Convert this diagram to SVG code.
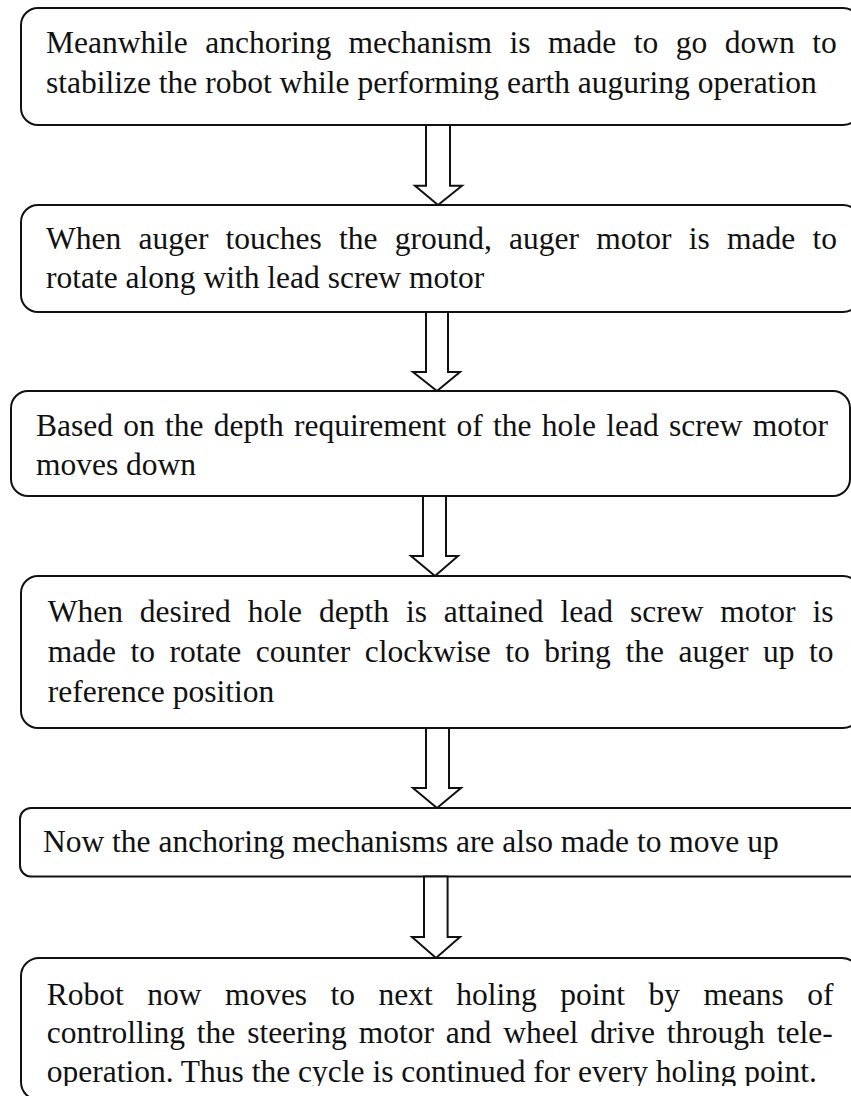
<svg xmlns="http://www.w3.org/2000/svg" width="851" height="1096" viewBox="0 0 851 1096">
<style>
.box{fill:#fff;stroke:#111;stroke-width:2}
.arr{fill:#fff;stroke:#111;stroke-width:2;stroke-linejoin:miter}
text{font-family:"Liberation Serif","Times New Roman",serif;font-size:31.5px;fill:#111}
</style>
<defs>
<clipPath id="clipBottom"><rect x="0" y="0" width="851" height="1086"/></clipPath>
</defs>
<rect width="851" height="1096" fill="#fff"/>
<g id="node1">
<rect class="box" x="21" y="8" width="839" height="117" rx="17" ry="17"/>
<text x="46" y="53" style="word-spacing:9.6px">Meanwhile anchoring mechanism is made to go down to</text>
<text x="46" y="93">stabilize the robot while performing earth auguring operation</text>
</g>
<g id="node2">
<rect class="box" x="21" y="205" width="839" height="107" rx="17" ry="17"/>
<text x="46" y="249" style="word-spacing:9.35px">When auger touches the ground, auger motor is made to</text>
<text x="46" y="288">rotate along with lead screw motor</text>
</g>
<g id="node3">
<rect class="box" x="11" y="391" width="839" height="105" rx="17" ry="17"/>
<text x="36" y="436" style="word-spacing:2.4px">Based on the depth requirement of the hole lead screw motor</text>
<text x="36" y="475">moves down</text>
</g>
<g id="node4">
<rect class="box" x="21" y="576" width="839" height="152" rx="17" ry="17"/>
<text x="47.7" y="622" style="word-spacing:9.08px">When desired hole depth is attained lead screw motor is</text>
<text x="47.7" y="662" style="word-spacing:6.68px">made to rotate counter clockwise to bring the auger up to</text>
<text x="47.7" y="702">reference position</text>
</g>
<g id="node5">
<rect class="box" x="20" y="808" width="845" height="68.5" rx="11" ry="11"/>
<text x="43" y="852">Now the anchoring mechanisms are also made to move up</text>
</g>
<g id="node6">
<rect class="box" x="21" y="958" width="839" height="142" rx="18" ry="18"/>
<text x="46.7" y="1005" style="word-spacing:15.59px">Robot now moves to next holing point by means of</text>
<text x="46.7" y="1043" style="word-spacing:3.99px">controlling the steering motor and wheel drive through tele-</text>
<text x="46.7" y="1082" clip-path="url(#clipBottom)">operation. Thus the cycle is continued for every holing point.</text>
</g>
<g id="connectors">
<polygon class="arr" points="426,125 450,125 450,185.7 462,185.7 438,205 415,185.7 426,185.7"/>
<polygon class="arr" points="426,312 448,312 448,372 460,372 437,391 413,372 426,372"/>
<polygon class="arr" points="423,496 446,496 446,556 458,556 435,576 411,556 423,556"/>
<polygon class="arr" points="426,728 449,728 449,788 461,788 437,808 413,788 426,788"/>
<polygon class="arr" points="424,876.5 447.6,876.5 447.6,937 460,937 436,958 412,937 424,937"/>
</g>
</svg>
